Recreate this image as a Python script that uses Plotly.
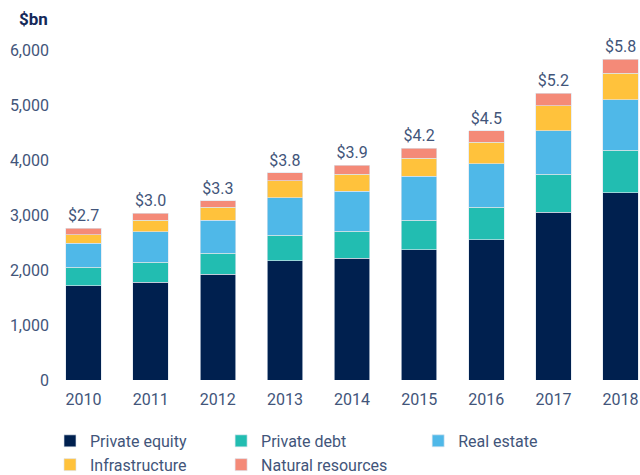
import plotly.graph_objects as go

# Data, $bn
years = ['2010', '2011', '2012', '2013', '2014', '2015', '2016', '2017', '2018']
private_equity = [1715, 1776, 1921, 2164, 2218, 2370, 2551, 3048, 3406]
private_debt = [335, 364, 388, 466, 485, 533, 588, 691, 770]
real_estate = [436, 557, 594, 685, 733, 800, 794, 794, 921]
infrastructure = [151, 212, 242, 309, 303, 333, 394, 449, 479]
natural_resources = [122, 121, 116, 146, 170, 176, 206, 236, 260]
total_labels = ['$2.7', '$3.0', '$3.3', '$3.8', '$3.9', '$4.2', '$4.5', '$5.2', '$5.8']

FONT = 'Roboto'
TEXT_COLOR = '#42557a'
TITLE_COLOR = '#14295a'

series = [
    ('Private equity', private_equity, '#00204f', 'legend'),
    ('Private debt', private_debt, '#22bdb1', 'legend2'),
    ('Real estate', real_estate, '#4fb8e8', 'legend3'),
    ('Infrastructure', infrastructure, '#ffc23c', 'legend'),
    ('Natural resources', natural_resources, '#f48a78', 'legend2'),
]

fig = go.Figure()

for i, (name, vals, color, leg) in enumerate(series):
    is_top = i == len(series) - 1
    fig.add_trace(go.Bar(
        x=years,
        y=vals,
        name=name,
        marker=dict(color=color, line=dict(color='rgba(220,228,238,0.8)', width=0.8)),
        legend=leg,
        # 合计标签放在最上层
        text=total_labels if is_top else None,
        textposition='outside' if is_top else 'none',
        textfont=dict(family=FONT, size=16, color=TEXT_COLOR),
        constraintext='none',
        cliponaxis=False,
        hoverinfo='x+y+name',
    ))

# 图例按容器定位，避免挤压绘图区
legend_common = dict(
    orientation='v',
    traceorder='normal',
    yref='container',
    yanchor='top',
    y=0.1075,
    xanchor='left',
    font=dict(family=FONT, size=16, color=TEXT_COLOR),
    bgcolor='rgba(0,0,0,0)',
    tracegroupgap=0,
    itemclick=False,
)

fig.update_layout(
    barmode='stack',
    bargap=0.47,
    width=640,
    height=475,
    margin=dict(l=50, r=0, t=39, b=95),
    plot_bgcolor='white',
    paper_bgcolor='white',
    font=dict(family=FONT, size=16, color=TEXT_COLOR),
    xaxis=dict(
        range=[-0.5, 8.29],
        automargin=False,
        showgrid=False,
        showline=False,
        zeroline=False,
        ticks='outside',
        ticklen=5,
        tickcolor='rgba(0,0,0,0)',
        tickfont=dict(family=FONT, size=16, color=TEXT_COLOR),
    ),
    yaxis=dict(
        range=[0, 6200],
        automargin=False,
        tickvals=[0, 1000, 2000, 3000, 4000, 5000, 6000],
        tickformat=',',
        showgrid=False,
        showline=False,
        zeroline=False,
        tickfont=dict(family=FONT, size=16, color=TEXT_COLOR),
    ),
    legend=dict(x=0.0, **legend_common),
    legend2=dict(x=0.29, **legend_common),
    legend3=dict(x=0.624, **legend_common),
    annotations=[dict(
        text='<b>$bn</b>',
        xref='paper', yref='paper',
        x=0, y=1.06,
        xanchor='right', yanchor='middle',
        showarrow=False,
        font=dict(family=FONT, size=17, color=TITLE_COLOR),
    )],
)

# 去掉页面默认边距，图表贴齐窗口左上角
fig.write_html(
    'out.html',
    config={'displayModeBar': False},
    post_script="document.body.style.margin='0';",
)
